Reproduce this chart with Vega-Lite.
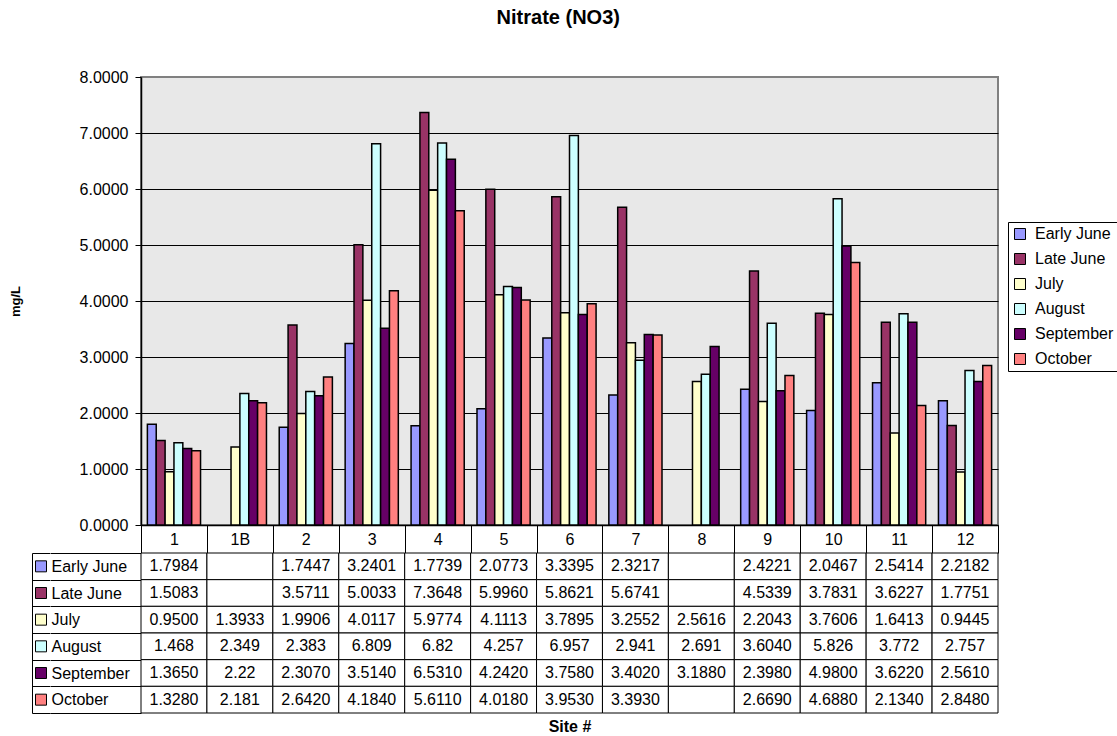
{
  "$schema": "https://vega.github.io/schema/vega-lite/v6.json",
  "padding": {"left": 8, "top": 8, "right": 0, "bottom": 0},
  "background": "white",
  "title": {"text": "Nitrate (NO3)", "fontSize": 20, "fontWeight": "bold", "color": "black", "anchor": "middle", "offset": 40, "dx": -5},
  "datasets": {
    "series": [{"series": "Early June"}, {"series": "Late June"}, {"series": "July"}, {"series": "August"}, {"series": "September"}, {"series": "October"}],
    "nitrate": [
      {"site": "1", "series": "Early June", "v": 1.7984, "t": "1.7984"},
      {"site": "1B", "series": "Early June", "v": null, "t": ""},
      {"site": "2", "series": "Early June", "v": 1.7447, "t": "1.7447"},
      {"site": "3", "series": "Early June", "v": 3.2401, "t": "3.2401"},
      {"site": "4", "series": "Early June", "v": 1.7739, "t": "1.7739"},
      {"site": "5", "series": "Early June", "v": 2.0773, "t": "2.0773"},
      {"site": "6", "series": "Early June", "v": 3.3395, "t": "3.3395"},
      {"site": "7", "series": "Early June", "v": 2.3217, "t": "2.3217"},
      {"site": "8", "series": "Early June", "v": null, "t": ""},
      {"site": "9", "series": "Early June", "v": 2.4221, "t": "2.4221"},
      {"site": "10", "series": "Early June", "v": 2.0467, "t": "2.0467"},
      {"site": "11", "series": "Early June", "v": 2.5414, "t": "2.5414"},
      {"site": "12", "series": "Early June", "v": 2.2182, "t": "2.2182"},
      {"site": "1", "series": "Late June", "v": 1.5083, "t": "1.5083"},
      {"site": "1B", "series": "Late June", "v": null, "t": ""},
      {"site": "2", "series": "Late June", "v": 3.5711, "t": "3.5711"},
      {"site": "3", "series": "Late June", "v": 5.0033, "t": "5.0033"},
      {"site": "4", "series": "Late June", "v": 7.3648, "t": "7.3648"},
      {"site": "5", "series": "Late June", "v": 5.996, "t": "5.9960"},
      {"site": "6", "series": "Late June", "v": 5.8621, "t": "5.8621"},
      {"site": "7", "series": "Late June", "v": 5.6741, "t": "5.6741"},
      {"site": "8", "series": "Late June", "v": null, "t": ""},
      {"site": "9", "series": "Late June", "v": 4.5339, "t": "4.5339"},
      {"site": "10", "series": "Late June", "v": 3.7831, "t": "3.7831"},
      {"site": "11", "series": "Late June", "v": 3.6227, "t": "3.6227"},
      {"site": "12", "series": "Late June", "v": 1.7751, "t": "1.7751"},
      {"site": "1", "series": "July", "v": 0.95, "t": "0.9500"},
      {"site": "1B", "series": "July", "v": 1.3933, "t": "1.3933"},
      {"site": "2", "series": "July", "v": 1.9906, "t": "1.9906"},
      {"site": "3", "series": "July", "v": 4.0117, "t": "4.0117"},
      {"site": "4", "series": "July", "v": 5.9774, "t": "5.9774"},
      {"site": "5", "series": "July", "v": 4.1113, "t": "4.1113"},
      {"site": "6", "series": "July", "v": 3.7895, "t": "3.7895"},
      {"site": "7", "series": "July", "v": 3.2552, "t": "3.2552"},
      {"site": "8", "series": "July", "v": 2.5616, "t": "2.5616"},
      {"site": "9", "series": "July", "v": 2.2043, "t": "2.2043"},
      {"site": "10", "series": "July", "v": 3.7606, "t": "3.7606"},
      {"site": "11", "series": "July", "v": 1.6413, "t": "1.6413"},
      {"site": "12", "series": "July", "v": 0.9445, "t": "0.9445"},
      {"site": "1", "series": "August", "v": 1.468, "t": "1.468"},
      {"site": "1B", "series": "August", "v": 2.349, "t": "2.349"},
      {"site": "2", "series": "August", "v": 2.383, "t": "2.383"},
      {"site": "3", "series": "August", "v": 6.809, "t": "6.809"},
      {"site": "4", "series": "August", "v": 6.82, "t": "6.82"},
      {"site": "5", "series": "August", "v": 4.257, "t": "4.257"},
      {"site": "6", "series": "August", "v": 6.957, "t": "6.957"},
      {"site": "7", "series": "August", "v": 2.941, "t": "2.941"},
      {"site": "8", "series": "August", "v": 2.691, "t": "2.691"},
      {"site": "9", "series": "August", "v": 3.604, "t": "3.6040"},
      {"site": "10", "series": "August", "v": 5.826, "t": "5.826"},
      {"site": "11", "series": "August", "v": 3.772, "t": "3.772"},
      {"site": "12", "series": "August", "v": 2.757, "t": "2.757"},
      {"site": "1", "series": "September", "v": 1.365, "t": "1.3650"},
      {"site": "1B", "series": "September", "v": 2.22, "t": "2.22"},
      {"site": "2", "series": "September", "v": 2.307, "t": "2.3070"},
      {"site": "3", "series": "September", "v": 3.514, "t": "3.5140"},
      {"site": "4", "series": "September", "v": 6.531, "t": "6.5310"},
      {"site": "5", "series": "September", "v": 4.242, "t": "4.2420"},
      {"site": "6", "series": "September", "v": 3.758, "t": "3.7580"},
      {"site": "7", "series": "September", "v": 3.402, "t": "3.4020"},
      {"site": "8", "series": "September", "v": 3.188, "t": "3.1880"},
      {"site": "9", "series": "September", "v": 2.398, "t": "2.3980"},
      {"site": "10", "series": "September", "v": 4.98, "t": "4.9800"},
      {"site": "11", "series": "September", "v": 3.622, "t": "3.6220"},
      {"site": "12", "series": "September", "v": 2.561, "t": "2.5610"},
      {"site": "1", "series": "October", "v": 1.328, "t": "1.3280"},
      {"site": "1B", "series": "October", "v": 2.181, "t": "2.181"},
      {"site": "2", "series": "October", "v": 2.642, "t": "2.6420"},
      {"site": "3", "series": "October", "v": 4.184, "t": "4.1840"},
      {"site": "4", "series": "October", "v": 5.611, "t": "5.6110"},
      {"site": "5", "series": "October", "v": 4.018, "t": "4.0180"},
      {"site": "6", "series": "October", "v": 3.953, "t": "3.9530"},
      {"site": "7", "series": "October", "v": 3.393, "t": "3.3930"},
      {"site": "8", "series": "October", "v": null, "t": ""},
      {"site": "9", "series": "October", "v": 2.669, "t": "2.6690"},
      {"site": "10", "series": "October", "v": 4.688, "t": "4.6880"},
      {"site": "11", "series": "October", "v": 2.134, "t": "2.1340"},
      {"site": "12", "series": "October", "v": 2.848, "t": "2.8480"}
    ]
  },
  "columns": 3,
  "bounds": "flush",
  "spacing": {"row": 28, "column": 0},
  "concat": [
    {"width": 18, "height": 448, "data": {"values": []}, "mark": "point"},
    {"width": 91, "height": 448, "data": {"values": []}, "mark": "point"},
    {
      "width": 857, "height": 448,
      "data": {"name": "nitrate"},
      "transform": [{"filter": "isValid(datum.v)"}],
      "view": {"fill": "#E8E8E8", "stroke": "#808080", "strokeWidth": 2},
      "mark": {"type": "bar", "stroke": "black", "strokeWidth": 1.5},
      "encoding": {
        "x": {"field": "site", "type": "nominal",
          "scale": {"domain": ["1", "1B", "2", "3", "4", "5", "6", "7", "8", "9", "10", "11", "12"], "paddingInner": 0, "paddingOuter": 0},
          "axis": {"title": null, "labelAngle": 0, "tickBand": "extent", "tickSize": 28, "tickColor": "black", "tickWidth": 1, "domainColor": "black", "domainWidth": 1.5, "labelPadding": -14, "labelBaseline": "middle", "labelFontSize": 16, "grid": false}},
        "xOffset": {"field": "series", "type": "nominal",
          "scale": {"domain": ["Early June", "Late June", "July", "August", "September", "October"], "paddingInner": 0, "paddingOuter": 0.72}},
        "y": {"field": "v", "type": "quantitative",
          "scale": {"domain": [0, 8], "nice": false},
          "axis": {"title": "mg/L", "values": [0, 1, 2, 3, 4, 5, 6, 7, 8], "format": ".4f", "grid": true,
            "gridColor": {"condition": {"test": "datum.value >= 8", "value": "#808080"}, "value": "black"},
            "gridWidth": 1, "gridOpacity": 1, "tickSize": 6, "tickColor": "black", "domainColor": "black", "domainWidth": 1.5,
            "labelPadding": 7, "labelFontSize": 16, "titleFontSize": 13, "titleFontWeight": "bold", "titlePadding": 57}},
        "color": {"field": "series", "type": "nominal",
          "scale": {"domain": ["Early June", "Late June", "July", "August", "September", "October"], "range": ["#9999FF", "#993366", "#FFFFCC", "#CCFFFF", "#660066", "#FF8080"]},
          "legend": {"title": null, "orient": "none", "legendX": 976, "legendY": 145}}
      }
    },
    {
      "width": 18, "height": 160,
      "data": {"name": "series"},
      "mark": {"type": "point", "shape": "square", "filled": true, "size": 121, "stroke": "black", "strokeWidth": 1, "opacity": 1},
      "encoding": {
        "y": {"field": "series", "type": "nominal",
          "scale": {"domain": ["Early June", "Late June", "July", "August", "September", "October"], "paddingInner": 0, "paddingOuter": 0},
          "axis": {"title": null, "labels": false, "ticks": false, "domain": true, "domainColor": "black", "domainWidth": 1, "grid": true, "gridColor": "black", "gridWidth": 1, "gridOpacity": 1, "tickBand": "extent", "zindex": 1}},
        "color": {"field": "series", "type": "nominal",
          "scale": {"domain": ["Early June", "Late June", "July", "August", "September", "October"], "range": ["#9999FF", "#993366", "#FFFFCC", "#CCFFFF", "#660066", "#FF8080"]},
          "legend": {"title": null, "orient": "none", "legendX": 976, "legendY": 145}}
      }
    },
    {
      "width": 91, "height": 160,
      "data": {"name": "series"},
      "mark": {"type": "rect", "fill": "white"},
      "encoding": {
        "y": {"field": "series", "type": "nominal",
          "scale": {"domain": ["Early June", "Late June", "July", "August", "September", "October"], "paddingInner": 0, "paddingOuter": 0},
          "axis": {"title": null, "ticks": false, "domain": false, "grid": true, "gridColor": "black", "gridWidth": 1, "gridOpacity": 1, "tickBand": "extent", "labelAlign": "left", "labelBaseline": "middle", "labelPadding": -1, "labelFontSize": 16, "labelLimit": 0, "zindex": 1}}
      }
    },
    {
      "width": 857, "height": 160,
      "data": {"name": "nitrate"},
      "encoding": {
        "x": {"field": "site", "type": "nominal",
          "scale": {"domain": ["1", "1B", "2", "3", "4", "5", "6", "7", "8", "9", "10", "11", "12"], "paddingInner": 0, "paddingOuter": 0},
          "axis": {"title": "Site #", "labels": false, "ticks": false, "domain": false, "titleFontSize": 16, "titleFontWeight": "bold", "titlePadding": 5}},
        "y": {"field": "series", "type": "nominal",
          "scale": {"domain": ["Early June", "Late June", "July", "August", "September", "October"], "paddingInner": 0, "paddingOuter": 0},
          "axis": null}
      },
      "layer": [
        {"mark": {"type": "rect", "fill": "white", "stroke": "black", "strokeWidth": 1}},
        {"mark": {"type": "text", "fontSize": 16, "color": "black", "align": "center", "baseline": "middle"},
          "encoding": {"text": {"field": "t"}}}
      ]
    }
  ],
  "config": {
    "font": "Liberation Sans",
    "view": {"stroke": null},
    "axis": {"labelFont": "Liberation Sans", "titleFont": "Liberation Sans", "labelColor": "black", "titleColor": "black"},
    "legend": {"symbolType": "square", "symbolSize": 121, "symbolStrokeColor": "black", "symbolStrokeWidth": 1, "symbolOpacity": 1, "labelFontSize": 16, "labelColor": "black", "labelFont": "Liberation Sans", "strokeColor": "black", "padding": 4, "rowPadding": 9, "labelOffset": 7, "fillColor": "white"},
    "title": {"font": "Liberation Sans"}
  }
}
